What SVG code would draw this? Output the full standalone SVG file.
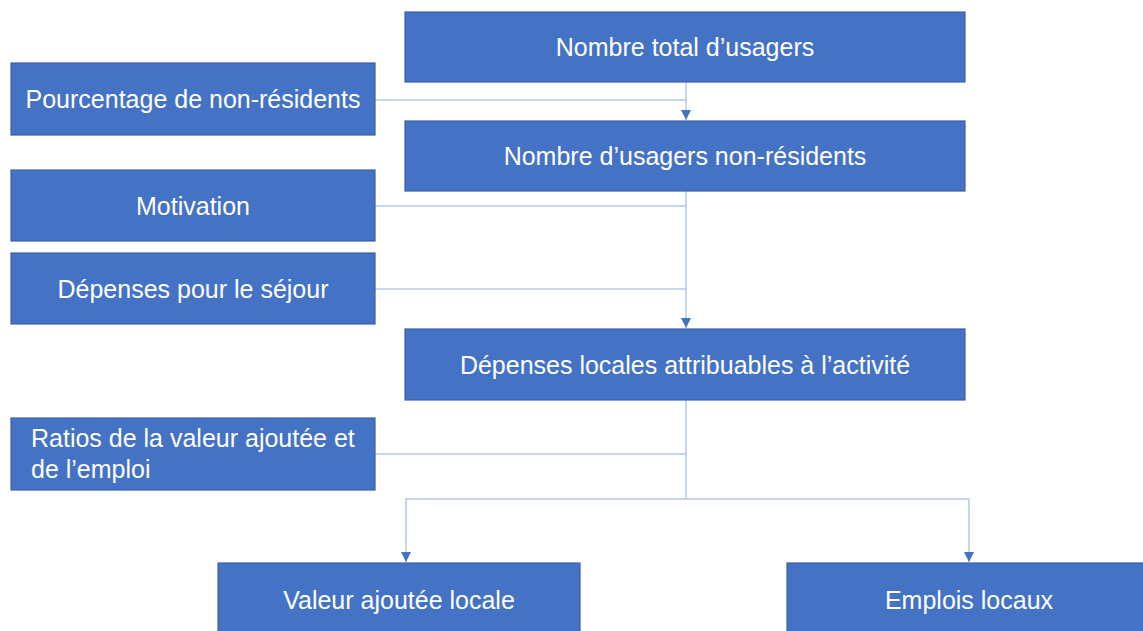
<svg xmlns="http://www.w3.org/2000/svg" width="1143" height="631" viewBox="0 0 1143 631">
<defs>
<style>
.box{fill:#4472c4;stroke:#3a62a8;stroke-width:1.2}
.t{fill:#ffffff;font-family:"Liberation Sans","Noto Sans",sans-serif;font-size:25px;text-anchor:middle}
.tl{fill:#ffffff;font-family:"Liberation Sans","Noto Sans",sans-serif;font-size:25px;text-anchor:start}
.c{fill:none;stroke:#b4c7e7;stroke-width:1.5}
</style>
<marker id="ah" viewBox="0 0 10 10" refX="10" refY="5" markerWidth="10" markerHeight="10" markerUnits="userSpaceOnUse" orient="auto">
<path d="M0,0 L10,5 L0,10 Z" fill="#4472c4"/>
</marker>
</defs>
<rect width="1143" height="631" fill="#ffffff"/>
<g id="connectors">
<line class="c" x1="375" y1="100" x2="686" y2="100"/>
<line class="c" x1="686" y1="82" x2="686" y2="120" marker-end="url(#ah)"/>
<line class="c" x1="375" y1="206" x2="686" y2="206"/>
<line class="c" x1="375" y1="289" x2="686" y2="289"/>
<line class="c" x1="686" y1="191" x2="686" y2="328" marker-end="url(#ah)"/>
<line class="c" x1="375" y1="454" x2="686" y2="454"/>
<line class="c" x1="686" y1="400" x2="686" y2="499"/>
<polyline class="c" points="406,540 406,499 969,499 969,540"/>
<line class="c" x1="406" y1="540" x2="406" y2="562" marker-end="url(#ah)"/>
<line class="c" x1="969" y1="540" x2="969" y2="562" marker-end="url(#ah)"/>
</g>
<g id="n1"><rect class="box" x="405" y="12" width="560" height="70"/><text class="t" x="685" y="56">Nombre total d’usagers</text></g>
<g id="n2"><rect class="box" x="11" y="63" width="364" height="72"/><text class="t" x="193" y="108">Pourcentage de non-résidents</text></g>
<g id="n3"><rect class="box" x="405" y="121" width="560" height="70"/><text class="t" x="685" y="165">Nombre d’usagers non-résidents</text></g>
<g id="n4"><rect class="box" x="11" y="170" width="364" height="71"/><text class="t" x="193" y="215">Motivation</text></g>
<g id="n5"><rect class="box" x="11" y="253" width="364" height="71"/><text class="t" x="193" y="298">Dépenses pour le séjour</text></g>
<g id="n6"><rect class="box" x="405" y="329" width="560" height="71"/><text class="t" x="685" y="374">Dépenses locales attribuables à l’activité</text></g>
<g id="n7"><rect class="box" x="11" y="418" width="364" height="72"/><text class="tl" x="31" y="447">Ratios de la valeur ajoutée et</text><text class="tl" x="31" y="478">de l’emploi</text></g>
<g id="n8"><rect class="box" x="218" y="563" width="362" height="80"/><text class="t" x="399" y="609">Valeur ajoutée locale</text></g>
<g id="n9"><rect class="box" x="787" y="563" width="370" height="80"/><text class="t" x="969" y="609">Emplois locaux</text></g>
</svg>
